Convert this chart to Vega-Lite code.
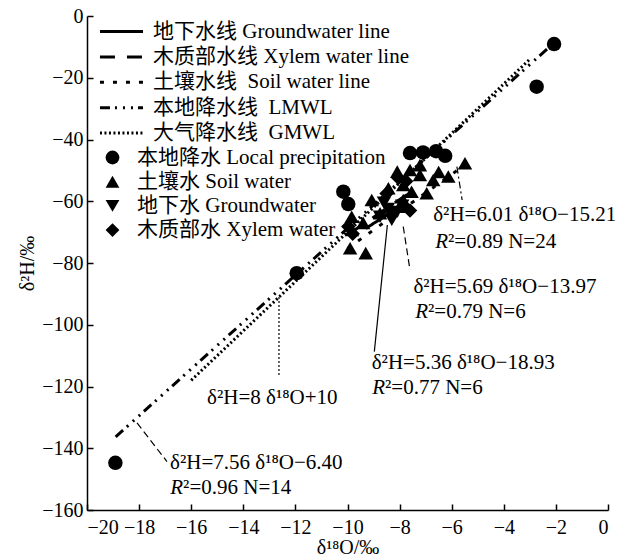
{
  "$schema": "https://vega.github.io/schema/vega-lite/v6.json",
  "width": 521,
  "height": 494,
  "autosize": {"type": "none"},
  "padding": {"left": 87, "top": 16, "right": 18, "bottom": 50},
  "config": {
    "font": "Liberation Serif, Noto Sans CJK SC",
    "view": {"stroke": null},
    "axis": {
      "domainColor": "black", "domainWidth": 1.5,
      "tickColor": "black", "tickWidth": 1.5, "tickSize": -6,
      "labelFont": "Liberation Serif", "labelFontSize": 20, "labelColor": "black",
      "titleFont": "Liberation Serif", "titleFontSize": 20, "titleFontWeight": "normal", "titleColor": "black",
      "grid": false
    },
    "legend": {
      "labelFont": "Liberation Serif, Noto Sans CJK SC",
      "labelFontSize": 21, "labelColor": "black", "labelLimit": 500,
      "padding": 0, "rowPadding": 3, "title": null
    }
  },
  "datasets": {
    "lines": [
      {"series": "地下水线 Groundwater line", "x": -9.3, "y": -68.8},
      {"series": "地下水线 Groundwater line", "x": -7.7, "y": -60.2},
      {"series": "木质部水线 Xylem water line", "x": -9.9, "y": -70.3},
      {"series": "木质部水线 Xylem water line", "x": -7.6, "y": -57.2},
      {"series": "土壤水线\u00a0 Soil water line", "x": -10.0, "y": -75.3},
      {"series": "土壤水线\u00a0 Soil water line", "x": -5.5, "y": -48.3},
      {"series": "本地降水线\u00a0 LMWL", "x": -18.9, "y": -136.3},
      {"series": "本地降水线\u00a0 LMWL", "x": -2.3, "y": -10.4},
      {"series": "大气降水线\u00a0 GMWL", "x": -16.0, "y": -118.0},
      {"series": "大气降水线\u00a0 GMWL", "x": -3.0, "y": -14.0}
    ],
    "points": [
      {"type": "本地降水 Local precipitation", "x": -2.07, "y": -9.1},
      {"type": "本地降水 Local precipitation", "x": -2.74, "y": -22.9},
      {"type": "本地降水 Local precipitation", "x": -18.91, "y": -144.7},
      {"type": "本地降水 Local precipitation", "x": -11.95, "y": -83.3},
      {"type": "本地降水 Local precipitation", "x": -7.6, "y": -44.4},
      {"type": "本地降水 Local precipitation", "x": -7.1, "y": -44.2},
      {"type": "本地降水 Local precipitation", "x": -6.6, "y": -43.8},
      {"type": "本地降水 Local precipitation", "x": -6.25, "y": -45.3},
      {"type": "本地降水 Local precipitation", "x": -10.16, "y": -56.9},
      {"type": "本地降水 Local precipitation", "x": -9.97, "y": -60.9},
      {"type": "土壤水 Soil water", "x": -8.09, "y": -50.4},
      {"type": "土壤水 Soil water", "x": -7.6, "y": -49.9},
      {"type": "土壤水 Soil water", "x": -7.22, "y": -48.3},
      {"type": "土壤水 Soil water", "x": -7.22, "y": -51.5},
      {"type": "土壤水 Soil water", "x": -6.71, "y": -53.1},
      {"type": "土壤水 Soil water", "x": -6.13, "y": -52.0},
      {"type": "土壤水 Soil water", "x": -5.49, "y": -47.7},
      {"type": "土壤水 Soil water", "x": -8.43, "y": -55.8},
      {"type": "土壤水 Soil water", "x": -7.86, "y": -54.7},
      {"type": "土壤水 Soil water", "x": -7.54, "y": -56.9},
      {"type": "土壤水 Soil water", "x": -6.96, "y": -57.4},
      {"type": "土壤水 Soil water", "x": -9.07, "y": -59.6},
      {"type": "土壤水 Soil water", "x": -7.86, "y": -59.6},
      {"type": "土壤水 Soil water", "x": -8.31, "y": -62.8},
      {"type": "土壤水 Soil water", "x": -9.84, "y": -65.0},
      {"type": "土壤水 Soil water", "x": -9.9, "y": -75.2},
      {"type": "土壤水 Soil water", "x": -9.3, "y": -76.8},
      {"type": "土壤水 Soil water", "x": -8.75, "y": -63.9},
      {"type": "土壤水 Soil water", "x": -7.73, "y": -61.8},
      {"type": "土壤水 Soil water", "x": -9.4, "y": -67.0},
      {"type": "土壤水 Soil water", "x": -9.83, "y": -69.3},
      {"type": "土壤水 Soil water", "x": -6.5, "y": -50.5},
      {"type": "\u00a0地下水 Groundwater", "x": -8.75, "y": -65.0},
      {"type": "\u00a0地下水 Groundwater", "x": -8.45, "y": -62.5},
      {"type": "\u00a0地下水 Groundwater", "x": -8.1, "y": -63.5},
      {"type": "\u00a0地下水 Groundwater", "x": -7.9, "y": -61.5},
      {"type": "\u00a0地下水 Groundwater", "x": -8.3, "y": -66.0},
      {"type": "\u00a0地下水 Groundwater", "x": -8.6, "y": -60.5},
      {"type": "木质部水 Xylem water", "x": -9.97, "y": -68.2},
      {"type": "木质部水 Xylem water", "x": -9.8, "y": -70.5},
      {"type": "木质部水 Xylem water", "x": -8.05, "y": -52.5},
      {"type": "木质部水 Xylem water", "x": -7.75, "y": -53.5},
      {"type": "木质部水 Xylem water", "x": -8.5, "y": -57.5},
      {"type": "木质部水 Xylem water", "x": -7.6, "y": -63.0}
    ],
    "leaders": [
      {"id": "lmwl", "style": "dashed", "x": -18.08, "y": -131.8},
      {"id": "lmwl", "style": "dashed", "x": -16.93, "y": -144.3},
      {"id": "xylem", "style": "dashed", "x": -7.86, "y": -68.2},
      {"id": "xylem", "style": "dashed", "x": -7.6, "y": -82.3},
      {"id": "gmwl", "style": "dotted", "x": -12.63, "y": -90.4},
      {"id": "gmwl", "style": "dotted", "x": -12.631, "y": -116.3},
      {"id": "gw", "style": "solid", "x": -8.47, "y": -67.7},
      {"id": "gw", "style": "solid", "x": -8.97, "y": -108.7},
      {"id": "soil", "style": "dashdot", "x": -5.8, "y": -48.8},
      {"id": "soil", "style": "dashdot", "x": -5.6, "y": -59.6}
    ],
    "notes": [
      {"kind": "eq", "x": -6.71, "y": -64.45, "label": "δ²H=6.01 δ¹⁸O−15.21"},
      {"kind": "r2", "x": -6.14, "y": -73.1, "label": "²=0.89 N=24"},
      {"kind": "eq", "x": -7.47, "y": -87.7, "label": "δ²H=5.69 δ¹⁸O−13.97"},
      {"kind": "r2", "x": -6.91, "y": -95.8, "label": "²=0.79 N=6"},
      {"kind": "eq", "x": -9.07, "y": -112.5, "label": "δ²H=5.36 δ¹⁸O−18.93"},
      {"kind": "r2", "x": -8.56, "y": -120.6, "label": "²=0.77 N=6"},
      {"kind": "eq", "x": -16.81, "y": -144.7, "label": "δ²H=7.56 δ¹⁸O−6.40"},
      {"kind": "r2", "x": -16.31, "y": -153.0, "label": "²=0.96 N=14"},
      {"kind": "eq", "x": -15.39, "y": -123.7, "label": "δ²H=8 δ¹⁸O+10"}
    ]
  },
  "encoding": {
    "x": {"field": "x", "type": "quantitative",
      "scale": {"domain": [-20, 0], "nice": false, "zero": false},
      "axis": {"title": "δ¹⁸O/‰", "values": [-20, -18, -16, -14, -12, -10, -8, -6, -4, -2, 0], "labelPadding": 13, "titlePadding": 0}},
    "y": {"field": "y", "type": "quantitative",
      "scale": {"domain": [-160, 0], "nice": false, "zero": false},
      "axis": {"title": "δ²H/‰", "values": [0, -20, -40, -60, -80, -100, -120, -140, -160], "labelPadding": 10, "titlePadding": 4}}
  },
  "layer": [
    {
      "data": {"name": "lines"},
      "mark": {"type": "line", "color": "black", "strokeWidth": 3},
      "encoding": {
        "strokeDash": {"field": "series", "type": "nominal",
          "scale": {
            "domain": ["地下水线 Groundwater line", "木质部水线 Xylem water line", "土壤水线\u00a0 Soil water line", "本地降水线\u00a0 LMWL", "大气降水线\u00a0 GMWL"],
            "range": [[1, 0], [15, 12], [4, 9], [10, 5, 2, 6, 2, 6, 2, 5], [2, 2.5]]
          },
          "legend": {"orient": "none", "legendX": 24, "legendY": 5, "symbolType": "M-4,0H4", "symbolSize": 116, "symbolStrokeWidth": 3, "symbolStrokeColor": "black", "labelOffset": 21, "rowPadding": 3.4}
        }
      }
    },
    {
      "data": {"name": "points"},
      "mark": {"type": "point", "filled": true, "color": "black", "opacity": 1, "size": 210},
      "encoding": {
        "shape": {"field": "type", "type": "nominal",
          "scale": {
            "domain": ["本地降水 Local precipitation", "土壤水 Soil water", "\u00a0地下水 Groundwater", "木质部水 Xylem water"],
            "range": ["circle", "triangle-up", "triangle-down", "diamond"]
          },
          "legend": {"orient": "none", "legendX": 15, "legendY": 131, "symbolFillColor": "black", "symbolStrokeColor": "black", "symbolSize": 190, "labelOffset": 14, "rowPadding": 2.2}
        }
      }
    },
    {
      "data": {"name": "leaders"},
      "transform": [{"filter": "datum.style == 'solid'"}],
      "mark": {"type": "line", "color": "black", "strokeWidth": 1.2},
      "encoding": {"detail": {"field": "id"}}
    },
    {
      "data": {"name": "leaders"},
      "transform": [{"filter": "datum.style == 'dashed'"}],
      "mark": {"type": "line", "color": "black", "strokeWidth": 1.2, "strokeDash": [7, 4]},
      "encoding": {"detail": {"field": "id"}}
    },
    {
      "data": {"name": "leaders"},
      "transform": [{"filter": "datum.style == 'dotted'"}],
      "mark": {"type": "line", "color": "black", "strokeWidth": 1.2, "strokeDash": [2, 2]},
      "encoding": {"detail": {"field": "id"}}
    },
    {
      "data": {"name": "leaders"},
      "transform": [{"filter": "datum.style == 'dashdot'"}],
      "mark": {"type": "line", "color": "black", "strokeWidth": 1.2, "strokeDash": [7, 3, 2, 3]},
      "encoding": {"detail": {"field": "id"}}
    },
    {
      "data": {"name": "notes"},
      "transform": [{"filter": "datum.kind == 'eq'"}],
      "mark": {"type": "text", "align": "left", "baseline": "middle", "fontSize": 21, "font": "Liberation Serif", "color": "black"},
      "encoding": {"text": {"field": "label"}}
    },
    {
      "data": {"name": "notes"},
      "transform": [{"filter": "datum.kind == 'r2'"}],
      "mark": {"type": "text", "align": "right", "baseline": "middle", "fontSize": 21, "font": "Liberation Serif", "fontStyle": "italic", "color": "black", "text": "R"},
      "encoding": {}
    },
    {
      "data": {"name": "notes"},
      "transform": [{"filter": "datum.kind == 'r2'"}],
      "mark": {"type": "text", "align": "left", "baseline": "middle", "fontSize": 21, "font": "Liberation Serif", "color": "black"},
      "encoding": {"text": {"field": "label"}}
    }
  ]
}
